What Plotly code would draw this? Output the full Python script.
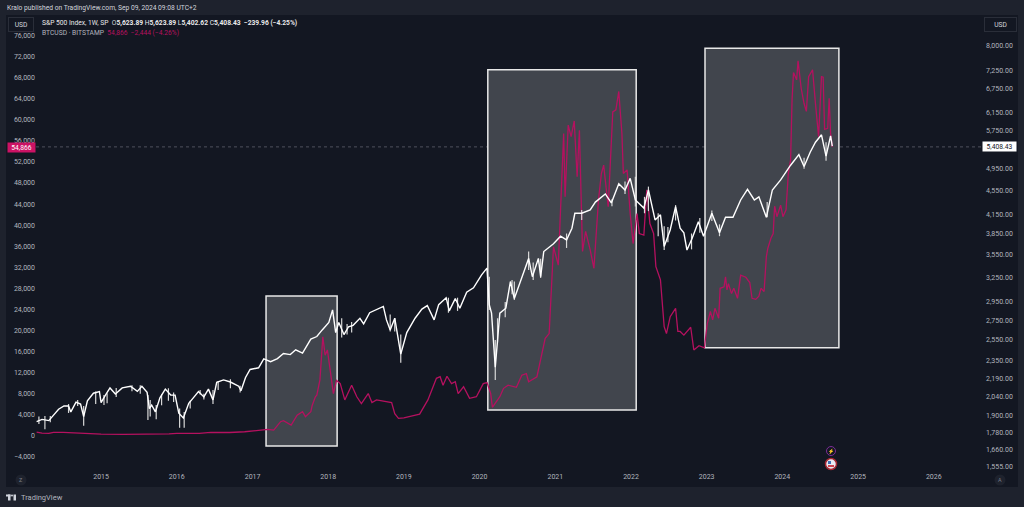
from datetime import datetime, timedelta

import plotly.graph_objects as go

spx_years = [
    2014.15, 2014.22, 2014.31, 2014.37, 2014.44, 2014.51, 2014.57, 2014.60, 2014.67, 2014.73, 2014.77,
    2014.82, 2014.90, 2014.98, 2015.00, 2015.06, 2015.12, 2015.19, 2015.28, 2015.39, 2015.48, 2015.54,
    2015.61, 2015.64, 2015.67, 2015.72, 2015.78, 2015.85, 2015.92, 2015.98, 2016.03, 2016.09, 2016.16,
    2016.22, 2016.29, 2016.36, 2016.42, 2016.48, 2016.53, 2016.62, 2016.71, 2016.82, 2016.85, 2016.91,
    2016.97, 2017.08, 2017.15, 2017.24, 2017.33, 2017.41, 2017.50, 2017.57, 2017.66, 2017.77, 2017.85,
    2017.92, 2018.01, 2018.06, 2018.10, 2018.14, 2018.21, 2018.27, 2018.33, 2018.42, 2018.47, 2018.55,
    2018.73, 2018.77, 2018.82, 2018.88, 2018.96, 2019.04, 2019.15, 2019.24, 2019.31, 2019.40, 2019.46,
    2019.56, 2019.60, 2019.68, 2019.74, 2019.83, 2019.92, 2020.03, 2020.10, 2020.13, 2020.16, 2020.21,
    2020.24, 2020.27, 2020.35, 2020.41, 2020.46, 2020.56, 2020.65, 2020.70, 2020.78, 2020.81, 2020.85,
    2020.98, 2021.07, 2021.15, 2021.22, 2021.26, 2021.35, 2021.46, 2021.53, 2021.66, 2021.74, 2021.84,
    2021.92, 2021.99, 2022.06, 2022.17, 2022.23, 2022.32, 2022.39, 2022.44, 2022.52, 2022.59, 2022.65,
    2022.70, 2022.74, 2022.81, 2022.89, 2022.96, 2023.07, 2023.17, 2023.25, 2023.35, 2023.45, 2023.54,
    2023.63, 2023.69, 2023.79, 2023.87, 2023.98, 2024.11, 2024.22, 2024.29, 2024.37, 2024.44, 2024.52,
    2024.58, 2024.64, 2024.66,
]
spx_close = [
    1854, 1870, 1861, 1904, 1945, 1970, 1970, 1925, 2000, 1985, 1890,
    2010, 2070, 2083, 1995, 2055, 2113, 2063, 2113, 2127, 2085, 2127,
    2077, 1950, 1977, 1925, 2033, 2103, 2055, 2055, 1915, 1880, 1990,
    2033, 2083, 2040, 2103, 2017, 2160, 2180, 2162, 2127, 2090, 2200,
    2270, 2285, 2365, 2340, 2368, 2415, 2405, 2450, 2420, 2555, 2580,
    2647, 2725, 2861, 2620, 2725, 2600, 2680, 2695, 2770, 2710, 2830,
    2900, 2752, 2647, 2770, 2410, 2620, 2770, 2870, 2910, 2752, 2920,
    3000, 2850, 2990, 2880, 3065, 3118, 3278, 3365, 2920, 2825, 2290,
    2546, 2825, 2880, 3195, 2990, 3255, 3495, 3255, 3495, 3255, 3590,
    3700, 3810, 3755, 3930, 4165, 4165, 4219, 4350, 4490, 4335, 4670,
    4560, 4770, 4386, 4250, 4560, 4058, 4140, 3660, 3904, 4275, 3930,
    3860, 3610, 3780, 4030, 3810, 4165, 3860, 4100, 4100, 4386, 4570,
    4386, 4440, 4100, 4560, 4741, 5020, 5230, 4995, 5285, 5490, 5650,
    5200, 5625, 5408.43,
]

# S&P 500 high/low ranges of the weeks with the long wicks
spx_wick_years = [
    2014.18, 2014.26, 2014.33, 2014.57, 2014.69, 2014.77, 2014.93, 2015.04, 2015.08, 2015.20, 2015.41,
    2015.52, 2015.62, 2015.65, 2015.73, 2015.80, 2015.89, 2015.96, 2016.04, 2016.10, 2016.18, 2016.31,
    2016.36, 2016.48, 2016.55, 2016.71, 2016.84, 2018.18, 2018.25, 2018.31, 2018.82, 2018.88, 2018.96,
    2019.59, 2019.71, 2020.13, 2020.21, 2020.24, 2020.34, 2020.43, 2020.46, 2020.65, 2020.71, 2020.81,
    2021.15, 2021.35, 2021.75, 2021.92, 2022.06, 2022.18, 2022.23, 2022.36, 2022.44, 2022.49, 2022.59,
    2022.80, 2022.91, 2023.07, 2023.17, 2023.80, 2024.29, 2024.58,
]
spx_wick_lows = [
    1836, 1800, 1850, 1917, 1970, 1825, 1985, 1977, 1990, 2040, 2085,
    2065, 1866, 1890, 1870, 1975, 2010, 2000, 1810, 1810, 1950, 2060,
    2020, 1985, 2095, 2110, 2075, 2570, 2600, 2620, 2630, 2630, 2330,
    2830, 2850, 2861, 2180, 2520, 2780, 3040, 2974, 3342, 3215, 3240,
    3640, 4058, 4280, 4490, 4275, 4165, 4200, 3810, 3610, 3720, 4050,
    3620, 3860, 4040, 3810, 4100, 4950, 5110,
]
spx_wick_highs = [
    1890, 1895, 1895, 1985, 2017, 1970, 2083, 2055, 2070, 2113, 2135,
    2135, 2055, 2017, 1977, 2060, 2110, 2075, 1950, 1925, 2010, 2095,
    2065, 2097, 2170, 2185, 2130, 2770, 2710, 2730, 2810, 2770, 2600,
    3000, 3000, 3255, 2546, 2770, 2950, 3215, 3195, 3590, 3440, 3490,
    3850, 4219, 4400, 4710, 4800, 4440, 4620, 4165, 3960, 3950, 4300,
    3850, 4090, 4210, 3990, 4350, 5170, 5490,
]

btc_years = [
    2014.15, 2014.22, 2014.31, 2014.37, 2014.50, 2014.60, 2014.73, 2014.90, 2015.00, 2015.30, 2015.60,
    2015.90, 2016.00, 2016.30, 2016.45, 2016.70, 2016.90, 2017.00, 2017.10, 2017.20, 2017.28, 2017.30,
    2017.37, 2017.41, 2017.46, 2017.51, 2017.59, 2017.66, 2017.70, 2017.77, 2017.79, 2017.83, 2017.85,
    2017.89, 2017.93, 2017.96, 2017.99, 2018.03, 2018.07, 2018.11, 2018.16, 2018.22, 2018.31, 2018.38,
    2018.44, 2018.53, 2018.58, 2018.64, 2018.84, 2018.88, 2018.93, 2019.00, 2019.21, 2019.32, 2019.37,
    2019.43, 2019.48, 2019.52, 2019.57, 2019.63, 2019.68, 2019.72, 2019.79, 2019.87, 2019.96, 2020.05,
    2020.10, 2020.15, 2020.17, 2020.27, 2020.32, 2020.38, 2020.49, 2020.56, 2020.62, 2020.65, 2020.76,
    2020.80, 2020.87, 2020.92, 2020.95, 2020.98, 2021.04, 2021.07, 2021.11, 2021.13, 2021.17, 2021.21,
    2021.25, 2021.29, 2021.32, 2021.36, 2021.40, 2021.46, 2021.51, 2021.57, 2021.61, 2021.64, 2021.68,
    2021.70, 2021.76, 2021.80, 2021.84, 2021.88, 2021.90, 2021.95, 2021.99, 2022.03, 2022.08, 2022.11,
    2022.17, 2022.21, 2022.25, 2022.30, 2022.33, 2022.39, 2022.44, 2022.47, 2022.52, 2022.59, 2022.62,
    2022.65, 2022.70, 2022.79, 2022.83, 2022.90, 2022.97, 2023.01, 2023.05, 2023.08, 2023.11, 2023.16,
    2023.18, 2023.23, 2023.25, 2023.27, 2023.29, 2023.33, 2023.36, 2023.41, 2023.45, 2023.52, 2023.57,
    2023.60, 2023.65, 2023.69, 2023.72, 2023.76, 2023.79, 2023.81, 2023.85, 2023.88, 2023.90, 2023.93,
    2023.98, 2024.01, 2024.05, 2024.08, 2024.11, 2024.13, 2024.15, 2024.19, 2024.21, 2024.25, 2024.29,
    2024.32, 2024.35, 2024.40, 2024.44, 2024.48, 2024.52, 2024.54, 2024.56, 2024.60, 2024.62, 2024.64,
    2024.66,
]
btc_close = [
    690, 480, 450, 650, 620, 560, 400, 370, 300, 240, 240,
    360, 430, 450, 650, 610, 750, 950, 1050, 1200, 1075, 1400,
    2660, 2850, 2470, 2030, 3900, 4560, 3610, 4560, 5800, 7400, 7700,
    10600, 18800, 15300, 16300, 11800, 8000, 10500, 9900, 6800, 9600, 7400,
    6100, 8000, 6300, 6800, 6300, 4200, 3300, 3400, 4100, 6800, 8700,
    10900, 11200, 9600, 11300, 9900, 10250, 8000, 9300, 7100, 7400, 9900,
    10100, 8000, 5400, 7400, 9000, 9600, 9200, 11500, 11800, 10250, 11200,
    14000, 18500, 19400, 26700, 35900, 32400, 42900, 57400, 45400, 59000, 56800,
    59800, 49200, 58000, 35000, 38800, 35300, 31800, 44800, 49800, 51400, 46700,
    43500, 61500, 61900, 65400, 57400, 49800, 50500, 42200, 36500, 42200, 38400,
    38100, 46700, 40300, 38400, 32100, 29600, 20700, 19400, 22600, 24200, 19800,
    19800, 19100, 20600, 16300, 17100, 16700, 21300, 23600, 22000, 24200, 22300,
    28000, 28300, 30200, 27700, 28900, 27000, 28000, 26100, 30500, 30100, 29100,
    26100, 25900, 26500, 28000, 27400, 34000, 35600, 37500, 38400, 43600, 41600,
    43800, 41600, 42900, 49800, 52400, 63800, 69000, 67600, 71200, 66000, 63100,
    61600, 68200, 69500, 63100, 56800, 68200, 68100, 58200, 58400, 64100, 57400,
    54866,
]

# highlighted periods: start year, end year, low and high on the BTC axis
box_starts = [2017.18, 2020.11, 2022.98]
box_ends = [2018.12, 2022.07, 2024.75]
box_lows = [-1960, 4880, 16700]
box_highs = [26540, 69500, 73580]

btc_ticks = list(range(-4000, 76001, 4000))
spx_ticks = [
    1555, 1660, 1780, 1900, 2040, 2190, 2350, 2550, 2750, 2950, 3250, 3550,
    3850, 4150, 4550, 4950, 5750, 6150, 6750, 7250, 8000,
]
year_ticks = [f"{y}-01-01" for y in range(2015, 2027)]

BG = "#131722"
FRAME = "#1e222d"
TEXT = "#b2b5be"
PINK = "#b5115f"
FONT = "Roboto, Arial, sans-serif"

# plot area in page pixels
LEFT, RIGHT, TOP, BOTTOM = 36, 985, 15, 471


def year_to_date(value: float) -> str:
    year = int(value)
    date = datetime(year, 1, 1) + timedelta(days=(value - year) * 365.25)
    return date.strftime("%Y-%m-%d")


def px(x: float) -> float:
    return (x - LEFT) / (RIGHT - LEFT)


def py(y: float) -> float:
    return (BOTTOM - y) / (BOTTOM - TOP)


def page_shape(kind: str, x0: float, y0: float, x1: float, y1: float, **style) -> dict:
    return dict(type=kind, xref="paper", yref="paper", x0=px(x0), x1=px(x1), y0=py(y0), y1=py(y1), **style)


def label(x: float, y: float, text: str, color: str = TEXT, size: float = 6.7, anchor: str = "left", **style) -> dict:
    return dict(
        xref="paper", yref="paper", x=px(x), y=py(y), text=text, showarrow=False,
        xanchor=anchor, yanchor="middle", font=dict(family=FONT, size=size, color=color), **style,
    )


# vertical wick segments, separated by gaps
wick_x, wick_y = [], []
for year, low, high in zip(spx_wick_years, spx_wick_lows, spx_wick_highs, strict=True):
    wick_x += [year_to_date(year), year_to_date(year), None]
    wick_y += [low, high, None]

fig = go.Figure()
fig.add_trace(go.Scatter(
    x=[year_to_date(v) for v in btc_years], y=btc_close, mode="lines",
    line=dict(color=PINK, width=1.3), yaxis="y", hoverinfo="skip", showlegend=False,
))
fig.add_trace(go.Scatter(
    x=wick_x, y=wick_y, mode="lines", connectgaps=False,
    line=dict(color="#d8d8d8", width=1.2), yaxis="y2", hoverinfo="skip", showlegend=False,
))
fig.add_trace(go.Scatter(
    x=[year_to_date(v) for v in spx_years], y=spx_close, mode="lines",
    line=dict(color="#ffffff", width=1.4), yaxis="y2", hoverinfo="skip", showlegend=False,
))

shapes = [
    page_shape("rect", 6, 15, 1018, 487, fillcolor=BG, line_width=0, layer="below"),
    dict(type="line", xref="paper", yref="y", x0=0, x1=1, y0=btc_close[-1], y1=btc_close[-1],
         line=dict(color="#5d606b", width=0.8, dash="dot"), layer="below"),
]
for start, end, low, high in zip(box_starts, box_ends, box_lows, box_highs, strict=True):
    shapes.append(dict(
        type="rect", xref="x", yref="y", x0=year_to_date(start), x1=year_to_date(end), y0=low, y1=high,
        fillcolor="#41454d", line=dict(color="#e8e8e8", width=1.5), layer="below",
    ))

# event icons above the time axis
shapes += [
    page_shape("circle", 826.5, 446.5, 835.5, 455.5, line=dict(color="#7b2d96", width=1), fillcolor=BG),
    page_shape("circle", 825.5, 458.5, 836.5, 469.5, line=dict(color="#a32530", width=1.5), fillcolor="#e8e8f0"),
    page_shape("rect", 828, 461, 831, 464, fillcolor="#3c6fb4", line_width=0),
    page_shape("rect", 828, 465, 834, 467, fillcolor="#d0444f", line_width=0),
    # round buttons in the bottom corners
    page_shape("circle", 15.5, 474.5, 26.5, 485.5, fillcolor="#1e222d", line_width=0),
    page_shape("circle", 994.5, 474.5, 1005.5, 485.5, fillcolor="#1e222d", line_width=0),
    # logo mark
    page_shape("rect", 6, 494.5, 10.5, 496.5, fillcolor="#d1d4dc", line_width=0),
    page_shape("rect", 8, 494.5, 10.5, 500.5, fillcolor="#d1d4dc", line_width=0),
    page_shape("circle", 11, 494.5, 13, 496.5, fillcolor="#d1d4dc", line_width=0),
    page_shape("rect", 13.5, 494.5, 16, 500.5, fillcolor="#d1d4dc", line_width=0),
]

annotations = [
    label(5, 8, "Kralo published on TradingView.com, Sep 09, 2024 09:08 UTC+2", color="#d1d4dc"),
    label(40, 23, "S&P 500 Index, 1W, SP  <span style='color:#d1d4dc'>O</span><b>5,623.89</b> "
                  "H<b>5,623.89</b> L<b>5,402.62</b> C<b>5,408.43</b>  "
                  "<b>−239.96 (−4.25%)</b>", color="#e8e8ea"),
    label(40, 33, "BTCUSD · BITSTAMP  <span style='color:#b5115f'>54,866  −2,444 (−4.26%)</span>", color=TEXT),
    label(20.5, 24, "USD", color="#d1d4dc", anchor="center", width=24, height=13, bgcolor=BG,
          bordercolor="#2a2e39", borderwidth=1, borderpad=0),
    label(1000, 24, "USD", color="#d1d4dc", anchor="center", width=31, height=13, bgcolor=BG,
          bordercolor="#2a2e39", borderwidth=1, borderpad=0),
    label(21.5, 147, f"{btc_close[-1]:,}", color="#ffffff", anchor="center", width=27, height=9,
          bgcolor="#cc1264", borderpad=0),
    label(999, 146.5, f"{spx_close[-1]:,.2f}", color="#131722", anchor="center", width=33, height=9,
          bgcolor="#ffffff", borderpad=0),
    label(831, 451, "⚡", color="#9c4fc0", size=5, anchor="center"),
    label(21, 480, "Z", color="#787b86", size=5.5, anchor="center"),
    label(1000, 480, "A", color="#787b86", size=5.5, anchor="center"),
    label(18.5, 497.5, "TradingView", color="#b2b5be", size=7.5),
]

fig.update_layout(
    width=1024,
    height=507,
    margin=dict(l=LEFT, r=1024 - RIGHT, t=TOP, b=507 - BOTTOM, pad=0),
    paper_bgcolor=FRAME,
    plot_bgcolor=BG,
    font=dict(family=FONT, size=7, color=TEXT),
    showlegend=False,
    shapes=shapes,
    annotations=annotations,
    xaxis=dict(
        type="date",
        range=[year_to_date(2014.141), year_to_date(2026.678)],
        tickvals=year_ticks,
        tickformat="%Y",
        showgrid=False,
        zeroline=False,
        showline=False,
        ticks="",
    ),
    yaxis=dict(
        range=[-6706, 79920],
        tickvals=btc_ticks,
        tickformat=",d",
        showgrid=False,
        zeroline=False,
        showline=False,
        ticks="",
    ),
    yaxis2=dict(
        type="log",
        overlaying="y",
        side="right",
        range=[3.1847, 3.9542],
        tickvals=spx_ticks,
        tickformat=",.2f",
        showgrid=False,
        zeroline=False,
        showline=False,
        ticks="",
    ),
)

fig.write_html("out.html", config={"displayModeBar": False}, post_script="document.body.style.margin='0';")
